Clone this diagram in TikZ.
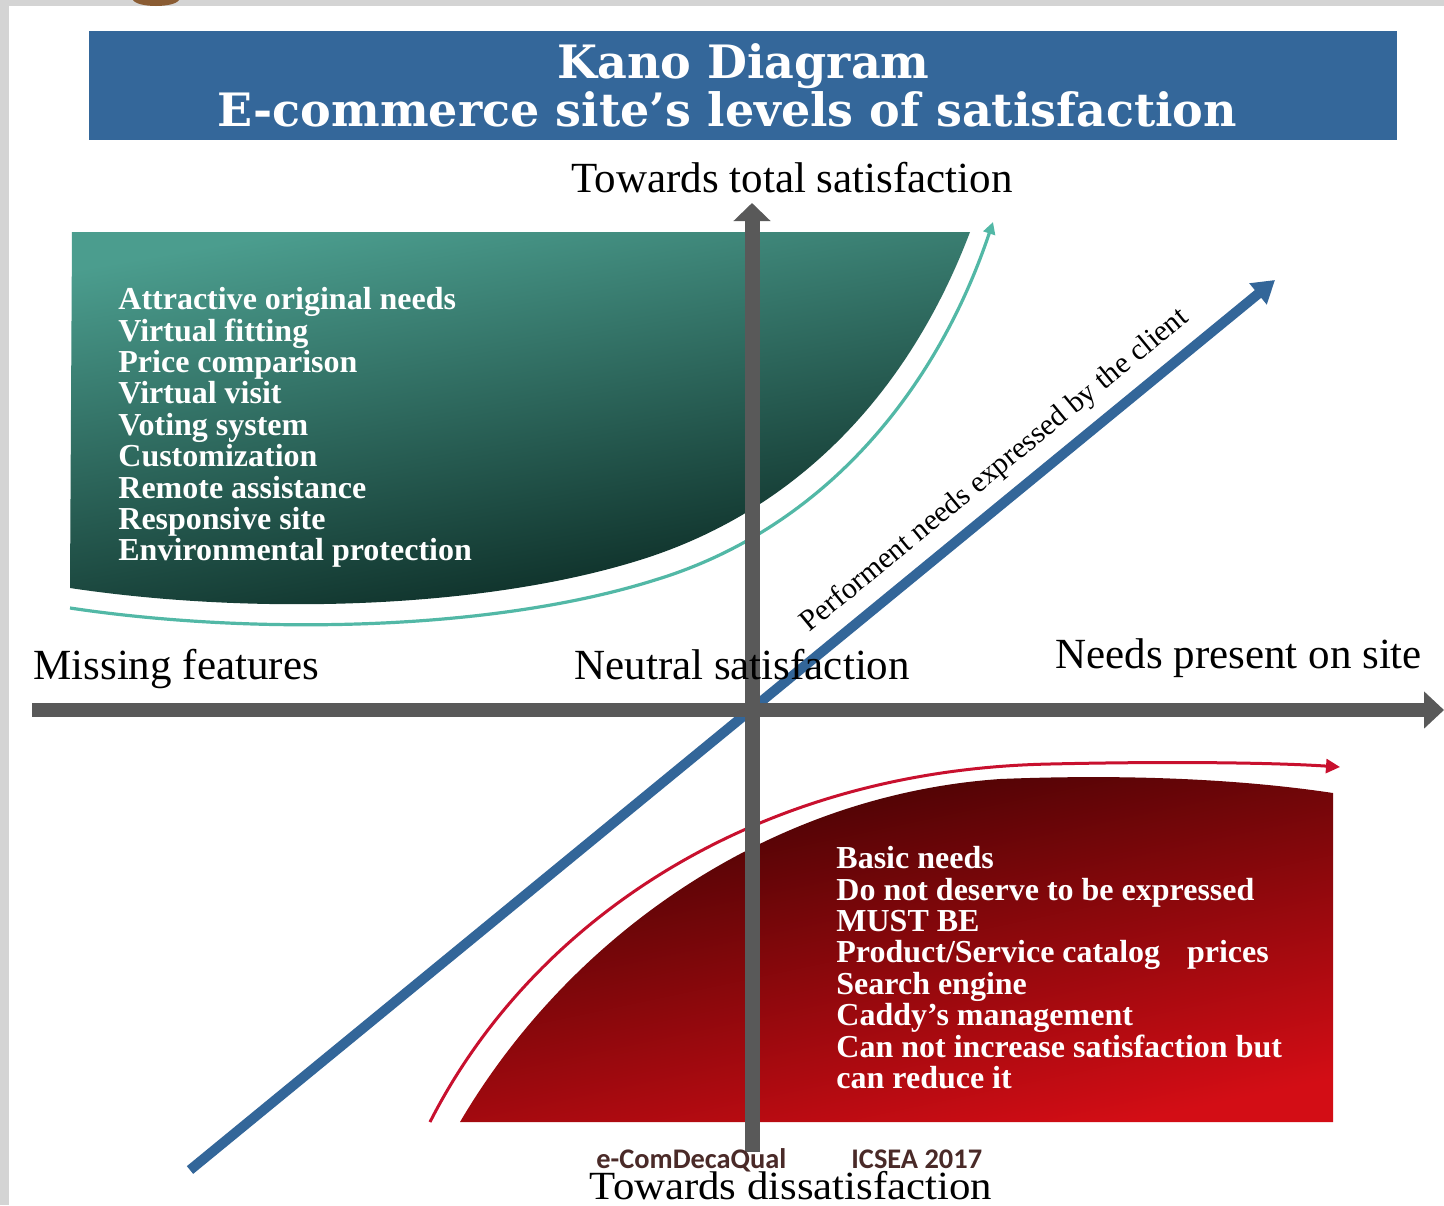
\documentclass[tikz,border=0pt]{standalone}
\usepackage{fontspec}
\setmainfont{Liberation Serif}
\newfontfamily\titlefont{DejaVu Serif}
\newfontfamily\footfont{Carlito}
\usetikzlibrary{arrows.meta}

\definecolor{titleblue}{HTML}{34679A}
\definecolor{axisgray}{HTML}{595959}
\definecolor{lineblue}{HTML}{336699}
\definecolor{tealline}{HTML}{52B8A6}
\definecolor{greenA}{HTML}{4B9D8E}
\definecolor{greenM}{HTML}{235749}
\definecolor{greenB}{HTML}{07231D}
\definecolor{redA}{HTML}{3C0202}
\definecolor{redM}{HTML}{7A0B07}
\definecolor{redB}{HTML}{D30D15}
\definecolor{crimson}{HTML}{C8102E}
\definecolor{footbrown}{HTML}{4A2A28}
\definecolor{framegray}{HTML}{D4D4D4}
\definecolor{knob}{HTML}{8A5C33}

\begin{document}
\begin{tikzpicture}[x=0.5pt,y=-0.5pt,
  axislabel/.style={font=\fontsize{21.5}{25}\selectfont, inner sep=0, text=black},
  listtext/.style={font=\bfseries\fontsize{16}{15.7}\selectfont, text=white, align=left, inner sep=0, anchor=north west},
  footer/.style={font=\footfont\bfseries\fontsize{14.2}{16}\selectfont, text=footbrown, inner sep=0, anchor=base west},
  titletext/.style={font=\titlefont\bfseries\fontsize{23}{26}\selectfont, text=white, inner sep=0, anchor=base},
]
\useasboundingbox (0,0) rectangle (1444,1205);
% slide background
\fill[framegray] (0,0) rectangle (1444,1205);
\fill[white] (9,6) rectangle (1444,1205);
\fill[knob] (133,0) .. controls (138,8) and (174,8) .. (179,0) -- cycle;

% title
\node[fill=titleblue, minimum width=654pt, minimum height=54.5pt, inner sep=0] (title) at (743,85.5) {};
\node[titletext] (t1) at (743.5,78) {Kano Diagram};
\node[titletext] (t2) at (727.5,126) {E-commerce site’s levels of satisfaction};

% attractive zone
\shade[top color=greenA, middle color=greenM, bottom color=greenB, shading angle=10]
  (72,232) -- (970,232) .. controls (910,390) and (800,510) .. (640,560)
  .. controls (480,610) and (250,615) .. (70,588) -- cycle;
\coordinate (tealS) at (70,608);
\coordinate (tealE) at (993,222);
\draw[tealline, line width=1.6pt, -{Triangle[width=6pt,length=6pt]}]
  (tealS) .. controls (250,635) and (490,632) .. (655,580)
  .. controls (820,530) and (935,395) .. (tealE);

% basic zone
\shade[top color=redA, middle color=redM, bottom color=redB, shading angle=12]
  (460,1122) .. controls (570,935) and (770,795) .. (1000,779)
  .. controls (1150,773) and (1260,782) .. (1333,793) -- (1333,1122) -- cycle;
\coordinate (redS) at (430,1122);
\coordinate (redE) at (1340,767);
\draw[crimson, line width=1.5pt, -{Triangle[width=7pt,length=7pt]}]
  (redS) .. controls (530,925) and (750,770) .. (1050,764)
  .. controls (1180,761) and (1280,763) .. (redE);

% performance line
\coordinate (bS) at (190,1170);
\coordinate (bE) at (1275,280);
\draw[lineblue, line width=5pt, -{Triangle[width=13pt,length=11pt]}] (bS) -- (bE);

% axes
\coordinate (xL) at (32,710);
\coordinate (xR) at (1444,710);
\coordinate (yB) at (752,1152);
\coordinate (yT) at (752,203);
\draw[axisgray, line width=7pt, -{Triangle[width=18pt,length=10pt]}] (xL) -- (xR);
\draw[axisgray, line width=7.5pt, -{Triangle[width=18pt,length=9pt]}] (yB) -- (yT);

% labels
\node[axislabel, anchor=base] (top) at (792,192) {Towards total satisfaction};
\node[axislabel, anchor=base west] (miss) at (33,679) {Missing features};
\node[axislabel, anchor=base west] (neut) at (574,679) {Neutral satisfaction};
\node[axislabel, anchor=base west] (pres) at (1055,668) {Needs present on site};
\node[axislabel, font=\fontsize{20}{24}\selectfont, anchor=base] (bot) at (791,1199)
  {\scalebox{1.07}[1]{Towards dissatisfaction}};
\node[font=\fontsize{15}{18}\selectfont, inner sep=0, rotate=39.4] (perf) at (995,471)
  {Performent needs expressed by the client};

\node[listtext] (attr) at (118,287) {Attractive original needs\\Virtual fitting\\Price comparison\\Virtual visit\\Voting system\\Customization\\Remote assistance\\Responsive site\\Environmental protection};
\node[listtext] (basic) at (836,846) {Basic needs\\Do not deserve to be expressed\\MUST BE\\Product/Service catalog\hspace{0.84em}prices\\Search engine\\Caddy’s management\\Can not increase satisfaction but\\can reduce it};

\node[footer] (f1) at (596,1168) {e-ComDecaQual};
\node[footer] (f2) at (851,1168) {ICSEA 2017};
\end{tikzpicture}
\end{document}
